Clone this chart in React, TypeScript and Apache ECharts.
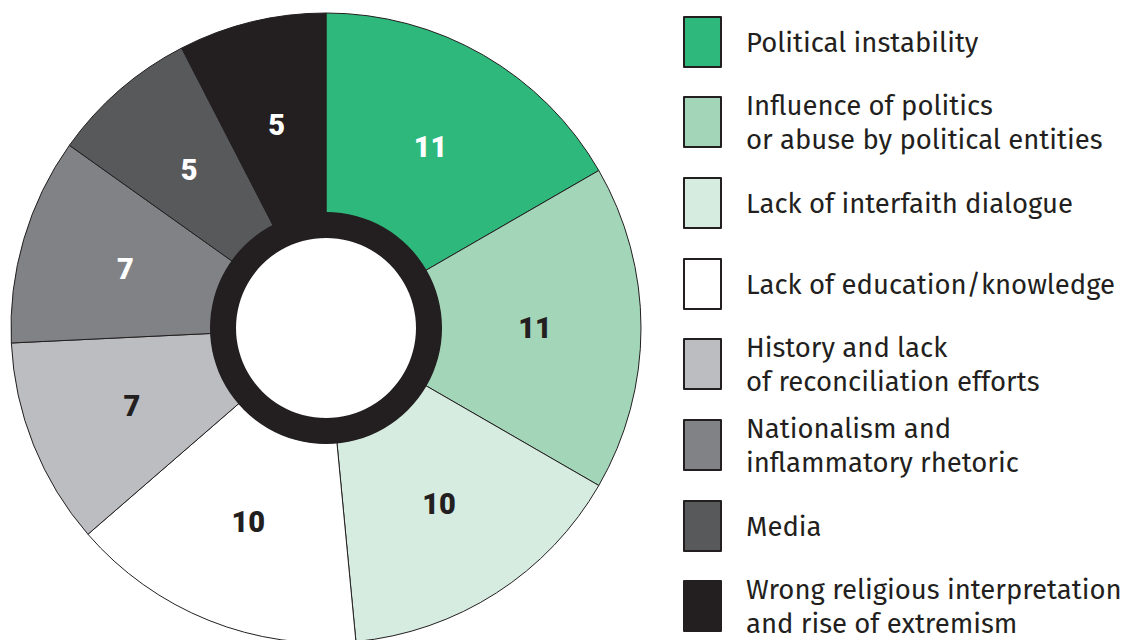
import React, { useEffect, useRef } from "react";
import * as echarts from "echarts";

const categories = [
  "Political instability",
  "Influence of politics\nor abuse by political entities",
  "Lack of interfaith dialogue",
  "Lack of education/knowledge",
  "History and lack\nof reconciliation efforts",
  "Nationalism and\ninflammatory rhetoric",
  "Media",
  "Wrong religious interpretation\nand rise of extremism",
];
const values = [11, 11, 10, 10, 7, 7, 5, 5];
const colors = ["#2eb87b", "#a3d5b8", "#d6ece0", "#ffffff", "#bcbdc0", "#808285", "#58595b", "#231f20"];
const labelColors = ["#ffffff", "#231f20", "#231f20", "#231f20", "#231f20", "#ffffff", "#ffffff", "#ffffff"];

const DARK = "#231f20";

export default function App() {
  const ref = useRef<HTMLDivElement>(null);
  useEffect(() => {
    if (!ref.current) return;
    const chart = echarts.init(ref.current, undefined, { renderer: "svg" });
    const lineH = 34;
    const legends = categories.map((name, i) => {
      const lines = name.split("\n").length;
      const h = Math.max(50, lines * lineH);
      const center = 41 + i * 80.7;
      return {
        data: [name],
        orient: "vertical",
        left: 678,
        top: Math.round(center - h / 2) - 5,
        itemWidth: 37,
        itemHeight: 50,
        icon: "rect",
        selectedMode: false,
        itemStyle: { borderColor: DARK, borderWidth: 2 },
        textStyle: {
          fontFamily: "'Fira Sans', 'Noto Sans', sans-serif",
          fontSize: 27.5,
          lineHeight: lineH,
          color: DARK,
          padding: [0, 0, 0, 20],
        },
      };
    });
    chart.setOption({
      animation: false,
      backgroundColor: "#ffffff",
      legend: legends,
      series: [
        {
          type: "pie",
          center: [326, 328],
          radius: [115, 315],
          startAngle: 90,
          clockwise: true,
          silent: true,
          avoidLabelOverlap: false,
          itemStyle: { borderColor: DARK, borderWidth: 1 },
          label: { show: false },
          labelLine: { show: false },
          data: categories.map((name, i) => ({
            name,
            value: values[i],
            itemStyle: { color: colors[i] },
          })),
        },
        {
          type: "pie",
          center: [326, 328],
          radius: [105, 307],
          startAngle: 90,
          clockwise: true,
          silent: true,
          avoidLabelOverlap: false,
          itemStyle: { color: "rgba(0,0,0,0)", borderWidth: 0 },
          label: {
            show: true,
            position: "inside",
            formatter: "{c}",
            fontFamily: "Roboto, 'Noto Sans', sans-serif",
            fontWeight: 900,
            fontSize: 29,
          },
          labelLine: { show: false },
          data: categories.map((name, i) => ({
            name,
            value: values[i],
            label: { color: labelColors[i] },
          })),
        },
        {
          type: "pie",
          center: [326, 328],
          radius: [90, 116],
          silent: true,
          label: { show: false },
          labelLine: { show: false },
          itemStyle: { color: DARK },
          data: [{ name: "ring", value: 1 }],
        },
      ],
    });
    return () => chart.dispose();
  }, []);
  return (
    <div
      ref={ref}
      style={{ position: "absolute", left: 0, top: 0, width: 1122, height: 640 }}
    />
  );
}
